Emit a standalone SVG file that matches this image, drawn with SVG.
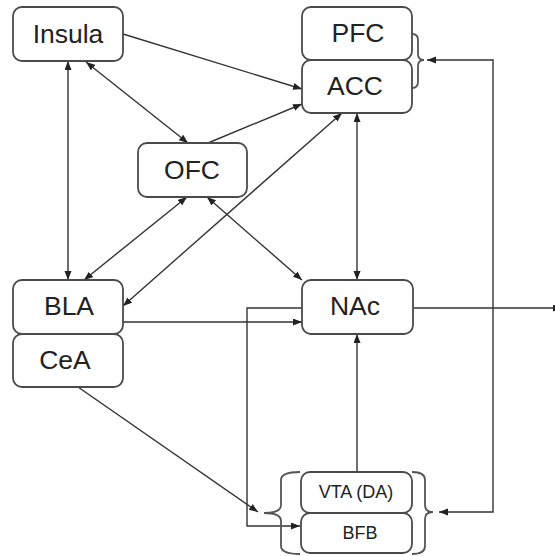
<svg xmlns="http://www.w3.org/2000/svg" width="555" height="556" viewBox="0 0 555 556">
<style>
.box{fill:#fff;stroke:#4a4a4a;stroke-width:1.8}
.lbl{font-family:"Liberation Sans",Arial,sans-serif;font-size:26.5px;fill:#222;text-anchor:middle}
.sm{font-size:18px}
.c{fill:none;stroke:#333;stroke-width:1.4}
.br{fill:none;stroke:#555;stroke-width:1.8}
</style>
<defs>
<marker id="a" markerUnits="userSpaceOnUse" markerWidth="10" markerHeight="8" refX="9" refY="3.5" orient="auto-start-reverse">
<path d="M0,0 L9,3.5 L0,7 z" fill="#222"/>
</marker>
</defs>
<rect width="555" height="556" fill="#fff"/>
<g id="connectors">
<line class="c" x1="123" y1="34" x2="302" y2="89" marker-end="url(#a)"/>
<line class="c" x1="208" y1="143" x2="302" y2="104" marker-end="url(#a)"/>
<line class="c" x1="86" y1="62" x2="188" y2="143" marker-start="url(#a)" marker-end="url(#a)"/>
<line class="c" x1="68" y1="61" x2="68" y2="280" marker-start="url(#a)" marker-end="url(#a)"/>
<line class="c" x1="187" y1="197" x2="84" y2="280" marker-start="url(#a)" marker-end="url(#a)"/>
<line class="c" x1="207" y1="197" x2="302" y2="280" marker-start="url(#a)" marker-end="url(#a)"/>
<line class="c" x1="342" y1="113" x2="123" y2="306" marker-start="url(#a)" marker-end="url(#a)"/>
<line class="c" x1="357" y1="113" x2="357" y2="280" marker-start="url(#a)" marker-end="url(#a)"/>
<line class="c" x1="123" y1="322" x2="302" y2="322" marker-end="url(#a)"/>
<polyline class="c" points="302,308 247,308 247,526 300,526" marker-end="url(#a)"/>
<line class="c" x1="357" y1="472" x2="357" y2="334" marker-end="url(#a)"/>
<line class="c" x1="413" y1="308" x2="562" y2="308" marker-end="url(#a)"/>
<polyline class="c" points="427,60 493,60 493,512 439,512" marker-start="url(#a)" marker-end="url(#a)"/>
<line class="c" x1="78" y1="387" x2="258" y2="512" marker-end="url(#a)"/>
</g>
<g id="braces">
<path class="br" d="M412,34 Q418,34 418,40 L418,54 Q418,60 424,60 Q418,60 418,66 L418,82 Q418,88 412,88"/>
<path class="br" d="M412,472 Q425,472 425,480 L425,505 Q425,512 433,512 Q425,512 425,519 L425,546 Q425,554 412,554"/>
<path class="br" d="M300,472 Q281,472 281,480 L281,505 Q281,513 264,513 Q281,513 281,521 L281,546 Q281,554 300,554"/>
</g>
<g id="insula"><rect class="box" x="13" y="7" width="110" height="54" rx="9"/><text class="lbl" x="68" y="43">Insula</text></g>
<g id="pfc"><rect class="box" x="302" y="7" width="110" height="53" rx="9"/><text class="lbl" x="358" y="42">PFC</text></g>
<g id="acc"><rect class="box" x="302" y="60" width="110" height="53" rx="9"/><text class="lbl" x="355" y="95">ACC</text></g>
<g id="ofc"><rect class="box" x="138" y="143" width="109" height="54" rx="9"/><text class="lbl" x="192" y="179">OFC</text></g>
<g id="bla"><rect class="box" x="13" y="280" width="110" height="54" rx="9"/><text class="lbl" x="69" y="315">BLA</text></g>
<g id="cea"><rect class="box" x="13" y="334" width="110" height="53" rx="9"/><text class="lbl" x="65" y="369">CeA</text></g>
<g id="nac"><rect class="box" x="302" y="280" width="111" height="54" rx="9"/><text class="lbl" x="355" y="315">NAc</text></g>
<g id="vta"><rect class="box" x="301" y="472" width="111" height="41" rx="9"/><text class="lbl sm" x="356" y="498">VTA (DA)</text></g>
<g id="bfb"><rect class="box" x="301" y="513" width="111" height="40" rx="9"/><text class="lbl sm" x="360" y="539">BFB</text></g>
</svg>
